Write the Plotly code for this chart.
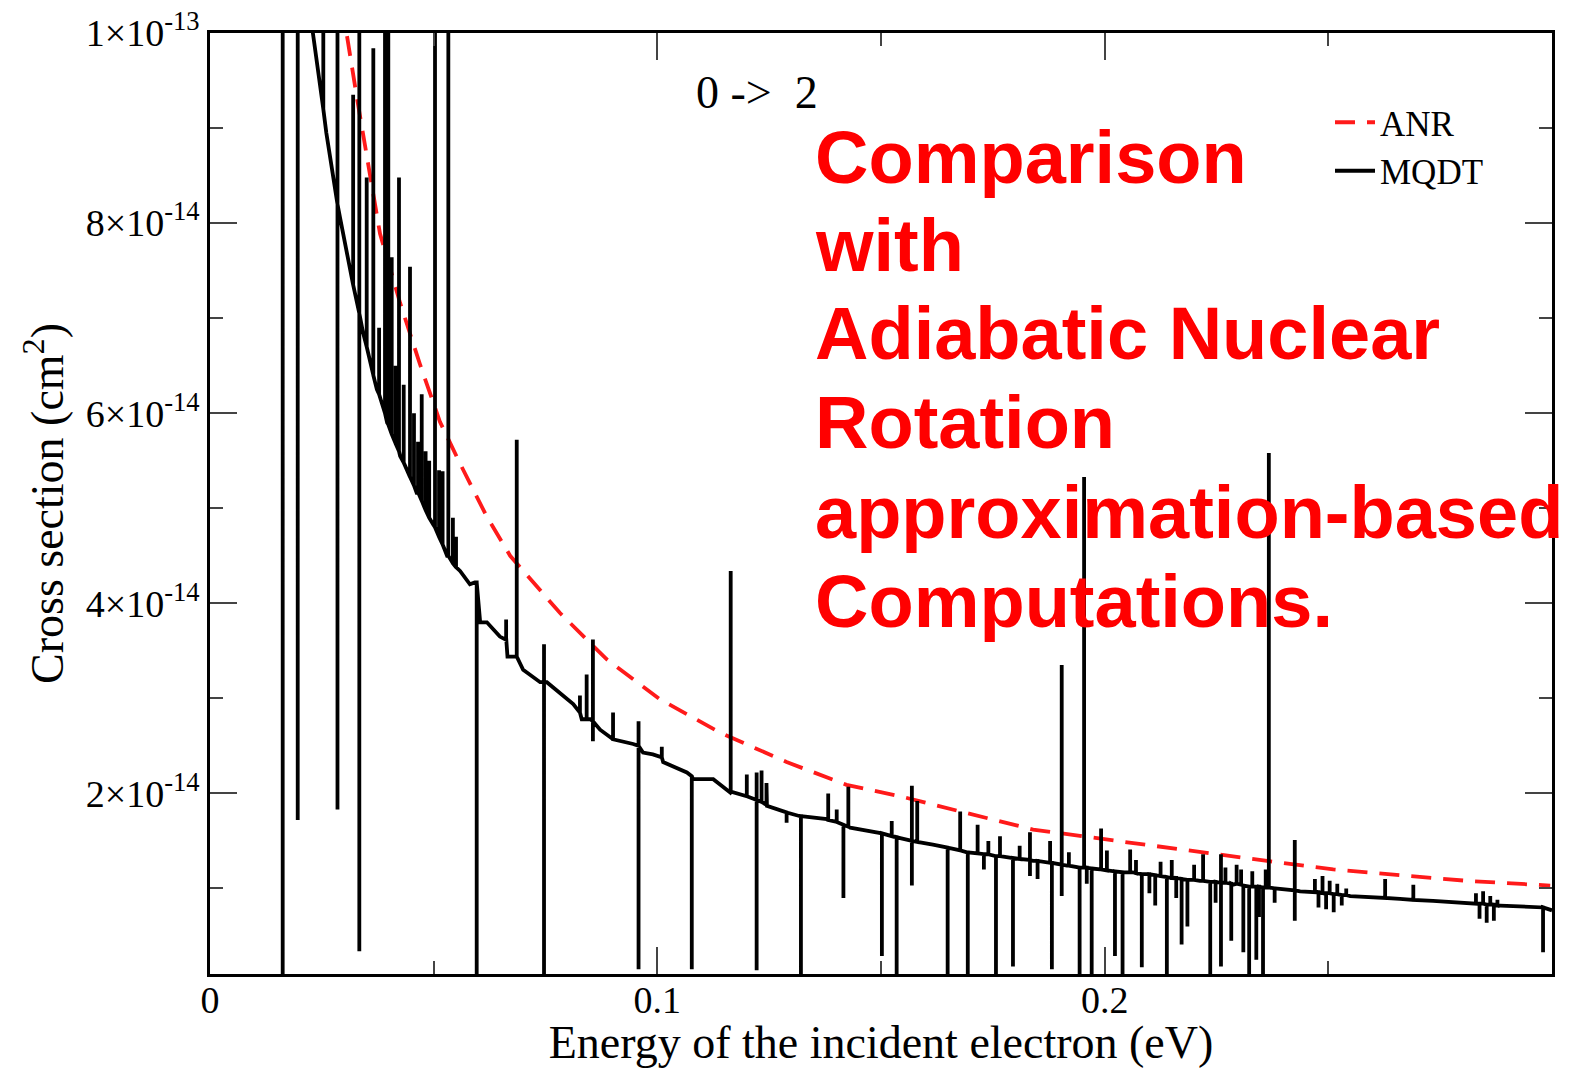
import plotly.graph_objects as go

# ---------------- data (energies in eV, cross sections in units of 1e-14 cm^2) ----------------
anr_x = [0.0295, 0.0328, 0.0380, 0.0425, 0.0469, 0.0514, 0.0559, 0.0619, 0.0671, 0.0782,
         0.0887, 0.1006, 0.1140, 0.1289, 0.1423, 0.1543, 0.1677, 0.1840, 0.2028, 0.2213,
         0.2363, 0.2511, 0.2660, 0.2810, 0.2996]
anr_y = [10.3, 9.33, 7.89, 7.16, 6.52, 5.91, 5.47, 4.91, 4.50, 3.90,
         3.41, 2.99, 2.64, 2.33, 2.09, 1.97, 1.81, 1.62, 1.50, 1.38,
         1.29, 1.20, 1.14, 1.08, 1.03]

# smooth background of the MQDT curve
mqdt_base_x = [0.0150, 0.0195, 0.0230, 0.0245, 0.0260, 0.0275, 0.0291, 0.0320, 0.0342, 0.0373,
               0.0396, 0.0425, 0.0463, 0.0499, 0.0530, 0.0559, 0.0581, 0.0592, 0.0604, 0.0619,
               0.0648, 0.0660, 0.0665, 0.0682, 0.0700, 0.0738, 0.0753, 0.0812, 0.0831, 0.0850,
               0.0872, 0.0901, 0.0946, 0.0968, 0.0990, 0.1013, 0.1066, 0.1080, 0.1125, 0.1133,
               0.1163, 0.1200, 0.1245, 0.1289, 0.1319, 0.1379, 0.1431, 0.1491, 0.1543, 0.1616,
               0.1692, 0.1766, 0.1840, 0.1916, 0.1990, 0.2063, 0.2139, 0.2213, 0.2287, 0.2363,
               0.2437, 0.2549, 0.2660, 0.2734, 0.2884, 0.2973, 0.3000]
mqdt_base_y = [16.0, 12.6, 10.0, 9.45, 8.95, 8.5, 8.05, 7.35, 6.85, 6.25,
               5.9, 5.55, 5.15, 4.83, 4.50, 4.34, 4.20, 4.22, 3.80, 3.80,
               3.65, 3.62, 3.44, 3.44, 3.30, 3.17, 3.17, 2.94, 2.78, 2.78,
               2.67, 2.57, 2.52, 2.43, 2.41, 2.33, 2.22, 2.15, 2.15, 2.12,
               2.01, 1.97, 1.87, 1.80, 1.76, 1.73, 1.64, 1.59, 1.53, 1.46,
               1.38, 1.34, 1.29, 1.24, 1.20, 1.17, 1.12, 1.08, 1.04, 1.01,
               0.97, 0.92, 0.89, 0.87, 0.82, 0.80, 0.77]

# resonance spikes of the MQDT curve: position, local background, extreme value
spike_x = [0.01625, 0.01961, 0.02533, 0.02850, 0.02850, 0.03200, 0.03338, 0.03338, 0.03503, 0.03651,
           0.03780, 0.03912, 0.03986, 0.04062, 0.04150, 0.04225, 0.04330, 0.04471, 0.04560, 0.04650,
           0.04733, 0.04820, 0.04900, 0.05030, 0.05120, 0.05200, 0.05328, 0.05430, 0.05500, 0.05962,
           0.0662, 0.06857, 0.07467, 0.07467, 0.0827, 0.0842, 0.0856, 0.0856, 0.0901, 0.0958,
           0.0958, 0.1010, 0.1077, 0.1164, 0.1200, 0.1222, 0.1222, 0.1233, 0.1244, 0.1289,
           0.1321, 0.1382, 0.1401, 0.1416, 0.1427, 0.1502, 0.1524, 0.1535, 0.1569, 0.1569,
           0.1581, 0.1649, 0.1677, 0.1694, 0.1716, 0.1730, 0.1740, 0.1757, 0.1766, 0.1795,
           0.1810, 0.1833, 0.1833, 0.1850, 0.1878, 0.1882, 0.1904, 0.1904, 0.1920, 0.1944,
           0.1954, 0.1960, 0.1971, 0.1992, 0.2005, 0.2023, 0.2040, 0.2057, 0.2070, 0.2083,
           0.2100, 0.2113, 0.2125, 0.2139, 0.2150, 0.2160, 0.2172, 0.2185, 0.2200, 0.2220,
           0.2236, 0.2248, 0.2260, 0.2260, 0.2270, 0.2283, 0.2295, 0.2305, 0.2310, 0.2323,
           0.2330, 0.2339, 0.2345, 0.2354, 0.2360, 0.2367, 0.2380, 0.2425, 0.2425, 0.2470,
           0.2478, 0.2487, 0.2495, 0.2503, 0.2512, 0.2520, 0.2530, 0.2540, 0.2627, 0.2690,
           0.2830, 0.2838, 0.2846, 0.2854, 0.2862, 0.2870, 0.2878, 0.2980]
spike_base = [15.5, 12.8, 9.2, 8.2, 8.2, 7.35, 7.05, 7.05, 6.7, 6.4,
              6.2, 6.0, 5.88, 5.78, 5.68, 5.6, 5.48, 5.33, 5.24, 5.17,
              5.08, 4.98, 4.9, 4.80, 4.70, 4.62, 4.50, 4.42, 4.38, 4.22,
              3.64, 3.44, 3.17, 3.17, 2.85, 2.78, 2.76, 2.76, 2.57, 2.50,
              2.50, 2.38, 2.18, 2.02, 1.97, 1.93, 1.93, 1.91, 1.88, 1.80,
              1.76, 1.72, 1.70, 1.67, 1.65, 1.58, 1.55, 1.54, 1.50, 1.50,
              1.49, 1.43, 1.40, 1.38, 1.37, 1.36, 1.36, 1.34, 1.34, 1.32,
              1.31, 1.30, 1.30, 1.29, 1.27, 1.27, 1.25, 1.25, 1.24, 1.22,
              1.22, 1.22, 1.21, 1.20, 1.19, 1.18, 1.17, 1.17, 1.16, 1.15,
              1.15, 1.14, 1.13, 1.12, 1.11, 1.11, 1.10, 1.09, 1.09, 1.08,
              1.07, 1.07, 1.06, 1.06, 1.06, 1.05, 1.05, 1.04, 1.03, 1.02,
              1.02, 1.02, 1.02, 1.01, 1.01, 1.01, 1.00, 0.98, 0.98, 0.96,
              0.96, 0.95, 0.95, 0.95, 0.94, 0.94, 0.93, 0.93, 0.90, 0.88,
              0.84, 0.84, 0.84, 0.83, 0.83, 0.83, 0.82, 0.80]
spike_tip = [0.0, 1.72, 12.0, 12.0, 1.83, 9.35, 12.0, 0.34, 8.48, 9.84,
             6.9, 12.0, 12.0, 7.64, 6.5, 8.48, 6.3, 7.54, 6.0, 5.7,
             6.2, 5.6, 5.5, 12.0, 5.4, 5.39, 12.0, 4.9, 4.7, 0.0,
             3.83, 5.72, 3.57, 0.0, 3.03, 3.25, 3.62, 2.55, 2.85, 2.76,
             0.15, 2.49, 0.15, 4.34, 2.20, 2.22, 0.14, 2.24, 2.11, 1.69,
             0.0, 2.00, 1.83, 0.90, 2.07, 0.29, 1.71, 0.0, 2.08, 1.03,
             1.92, 0.0, 1.81, 0.0, 1.67, 1.20, 1.50, 0.0, 1.55, 0.18,
             1.45, 1.59, 1.13, 1.10, 1.50, 0.15, 3.35, 0.92, 1.38, 0.0,
             5.33, 1.05, 0.0, 1.63, 1.40, 0.29, 0.0, 1.41, 1.30, 0.17,
             0.95, 0.82, 1.28, 0.0, 1.30, 0.90, 0.41, 0.60, 1.25, 1.36,
             0.0, 0.85, 1.36, 0.18, 1.22, 0.45, 1.25, 1.20, 0.33, 0.0,
             1.18, 0.25, 0.70, 0.0, 1.20, 5.58, 0.85, 1.51, 0.66, 1.10,
             0.80, 1.13, 0.78, 1.08, 0.75, 1.05, 0.82, 1.00, 1.10, 1.04,
             0.95, 0.68, 0.97, 0.64, 0.92, 0.66, 0.88, 0.33]

x_tick_vals = [0, 0.1, 0.2]
x_tick_text = ["0", "0.1", "0.2"]
x_minor_vals = [0.05, 0.15, 0.25]
y_tick_vals = [2, 4, 6, 8, 10]
y_tick_text = ["2×10<sup>-14</sup>", "4×10<sup>-14</sup>", "6×10<sup>-14</sup>",
               "8×10<sup>-14</sup>", "1×10<sup>-13</sup>"]
y_minor_vals = [1, 3, 5, 7, 9]

# ---------------- assemble MQDT trace ----------------
events = []
for i, (x, y) in enumerate(zip(mqdt_base_x, mqdt_base_y)):
    events.append((x, 0, i, [(x, y)]))
for j, (x, b, t) in enumerate(zip(spike_x, spike_base, spike_tip)):
    events.append((x, 1, j, [(x, b), (x, t), (x, b)]))
events.sort(key=lambda e: (e[0], e[1], e[2]))
mq_x, mq_y = [], []
for e in events:
    for px, py in e[3]:
        mq_x.append(px)
        mq_y.append(py)

# ---------------- figure ----------------
W, H = 1570, 1068
ML, MR, MT, MB = 210, 18, 33, 94
PW, PH = W - ML - MR, H - MT - MB


def paper_x(px):
    return (px - ML) / PW


def paper_y(py):
    return (H - MB - py) / PH


SERIF = "Liberation Serif, Times New Roman, serif"

fig = go.Figure()
fig.add_trace(go.Scatter(x=anr_x, y=anr_y, mode="lines", name="ANR",
                         line=dict(color="#ff1a1a", width=3.8, dash="20px,12px")))
fig.add_trace(go.Scatter(x=mq_x, y=mq_y, mode="lines", name="MQDT",
                         line=dict(color="black", width=3.8)))

axis_common = dict(
    showline=True, linecolor="black", linewidth=2.5, mirror="ticks",
    ticks="inside", ticklen=27, tickwidth=2, tickcolor="#444",
    showgrid=False, zeroline=False,
    tickfont=dict(family=SERIF, size=38, color="black"),
)

fig.update_xaxes(range=[0, 0.3], tickmode="array", tickvals=x_tick_vals, ticktext=x_tick_text,
                 ticklabelstandoff=-9,
                 minor=dict(tickmode="array", tickvals=x_minor_vals, ticklen=13, tickwidth=2,
                            tickcolor="#444", ticks="inside"),
                 title=dict(text="Energy of the incident electron (eV)",
                            font=dict(family=SERIF, size=46, color="black"), standoff=6),
                 **axis_common)
fig.update_yaxes(range=[0.1, 10], tickmode="array", tickvals=y_tick_vals, ticktext=y_tick_text,
                 minor=dict(tickmode="array", tickvals=y_minor_vals, ticklen=13, tickwidth=2,
                            tickcolor="#444", ticks="inside"),
                 title=dict(text="Cross section (cm<sup>2</sup>)",
                            font=dict(family=SERIF, size=46, color="black"), standoff=8),
                 **axis_common)

annotations = [
    dict(text="0 -&gt;\u00a0 2", x=paper_x(757), y=paper_y(92), xref="paper", yref="paper",
         showarrow=False, xanchor="center", yanchor="middle",
         font=dict(family=SERIF, size=46, color="black")),
]
red_lines = ["Comparison", "with", "Adiabatic Nuclear", "Rotation",
             "approximation-based", "Computations."]
red_baselines = [183, 271, 359, 448, 538, 627]
for txt, b in zip(red_lines, red_baselines):
    annotations.append(dict(text=txt, x=paper_x(813), y=paper_y(b - 26), xref="paper", yref="paper",
                            showarrow=False, xanchor="left", yanchor="middle",
                            font=dict(family="Liberation Sans, Arial, sans-serif", size=74,
                                      color="#ff0000", weight="bold")))

fig.update_layout(
    width=W, height=H,
    margin=dict(l=ML, r=MR, t=MT, b=MB, autoexpand=False),
    paper_bgcolor="white", plot_bgcolor="white",
    showlegend=True,
    legend=dict(x=paper_x(1330), y=paper_y(93), xanchor="left", yanchor="top",
                bgcolor="rgba(0,0,0,0)", font=dict(family=SERIF, size=35, color="black"),
                itemwidth=40, tracegroupgap=0),
    annotations=annotations,
)

fig.write_html("out.html")
